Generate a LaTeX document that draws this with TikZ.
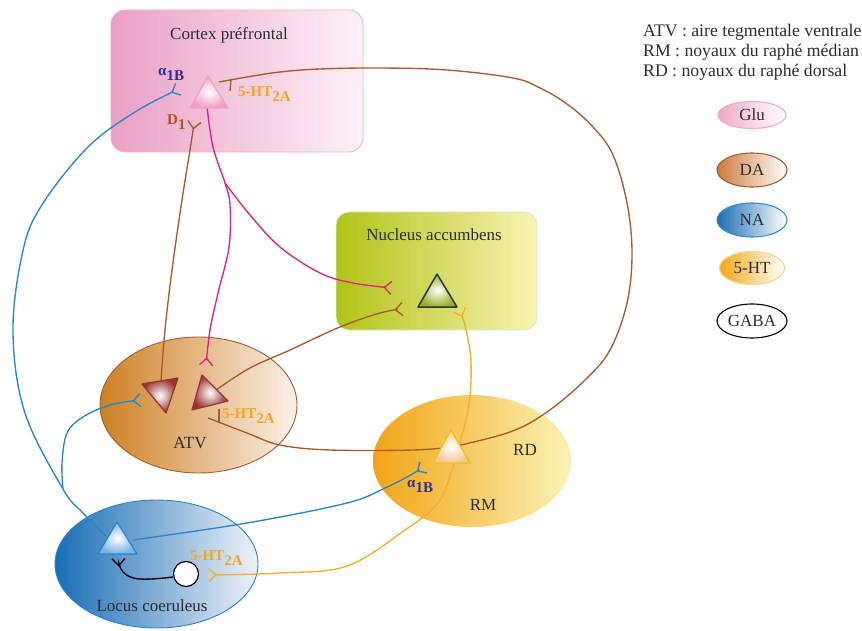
\documentclass[tikz,border=0pt]{standalone}
\usepackage{fontspec}
\setmainfont{Liberation Serif}
\usetikzlibrary{arrows.meta,shapes.geometric}
\definecolor{txt}{RGB}{45,45,45}
\definecolor{ctxL}{RGB}{234,160,196}
\definecolor{ctxR}{RGB}{252,242,247}
\definecolor{ctxB}{RGB}{242,176,204}
\definecolor{nacL}{RGB}{176,196,22}
\definecolor{nacR}{RGB}{249,243,178}
\definecolor{nacB}{RGB}{212,234,222}
\definecolor{atvL}{RGB}{206,128,34}
\definecolor{atvR}{RGB}{251,241,233}
\definecolor{atvB}{RGB}{166,92,50}
\definecolor{rdL}{RGB}{242,165,22}
\definecolor{rdR}{RGB}{251,243,182}
\definecolor{lcL}{RGB}{24,110,180}
\definecolor{lcR}{RGB}{238,242,250}
\definecolor{lcB}{RGB}{45,130,200}
\definecolor{blueln}{RGB}{40,135,200}
\definecolor{brownln}{RGB}{168,92,45}
\definecolor{pinkln}{RGB}{232,30,130}
\definecolor{orangeln}{RGB}{245,175,40}
\definecolor{navy}{RGB}{46,49,146}
\definecolor{orlab}{RGB}{245,168,30}
\definecolor{brlab}{RGB}{165,85,40}
\definecolor{gluL}{RGB}{240,170,200}
\definecolor{daL}{RGB}{205,125,60}
\definecolor{naL}{RGB}{30,110,180}
\definecolor{naB}{RGB}{50,140,210}
\definecolor{htL}{RGB}{242,168,25}
\definecolor{htB}{RGB}{250,212,140}
\definecolor{triCtx}{RGB}{240,160,195}
\definecolor{triNac}{RGB}{150,175,40}
\definecolor{triAtv}{RGB}{150,50,50}
\definecolor{triRd}{RGB}{245,200,150}
\definecolor{triLc}{RGB}{120,180,230}
\newcommand{\lowsub}[1]{\raisebox{-5pt}{#1}}
\begin{document}
\begin{tikzpicture}[x=1pt,y=-1pt,
  lab/.style={font=\fontsize{17}{20}\selectfont, text=txt, inner sep=0, anchor=base},
  rlab/.style={font=\fontsize{15}{18}\selectfont\bfseries, inner sep=0, anchor=base west},
  ln/.style={line width=1.35pt},
  fk/.style={-{Straight Barb[reversed,length=7pt,width=13pt]}},
  fkk/.style={{Straight Barb[reversed,length=7pt,width=13pt]}-{Straight Barb[reversed,length=7pt,width=13pt]}},
  legel/.style={ellipse, inner sep=0, font=\fontsize{17}{20}\selectfont, text=txt, line width=1.1pt},
  legtxt/.style={font=\fontsize{17.7}{20}\selectfont, text=txt, inner sep=0, anchor=base west},
  tri/.style={line width=1.2pt, line join=round}
]
\useasboundingbox (0,0) rectangle (862,631);

% ---------- regions ----------
\node[draw=ctxB, line width=0.8pt, left color=ctxL, right color=ctxR, rounded corners=14pt,
      minimum width=252pt, minimum height=142pt, inner sep=0] (cortex) at (237,81) {};
\node[draw=nacB, line width=0.8pt, left color=nacL, right color=nacR, rounded corners=13pt,
      minimum width=201pt, minimum height=118pt, inner sep=0] (nac) at (436.5,271) {};
\node[ellipse, draw=atvB, line width=0.9pt, left color=atvL, right color=atvR,
      minimum width=197pt, minimum height=136pt, inner sep=0] (atv) at (198.5,405) {};
\node[ellipse, left color=rdL, right color=rdR,
      minimum width=198pt, minimum height=132pt, inner sep=0] (rd) at (472,461) {};
\node[ellipse, draw=lcB, line width=0.9pt, left color=lcL, right color=lcR,
      minimum width=203pt, minimum height=128pt, inner sep=0] (lc) at (156.5,564) {};

% ---------- region labels ----------
\node[lab] (lctx) at (229,39.5) {Cortex préfrontal};
\node[lab] (lnac) at (434,240.5) {Nucleus accumbens};
\node[lab] (latv) at (190,448) {ATV};
\node[lab] (lrd) at (525,455) {RD};
\node[lab] (lrm) at (483,510) {RM};
\node[lab] (llc) at (152,611) {Locus coeruleus};

% ---------- named points ----------
\coordinate (ctxA) at (179,89);
\coordinate (ctxD) at (194.5,121);
\coordinate (ctxH) at (219,82);
\coordinate (ctxBot) at (207,107);
\coordinate (pinkSplit) at (225,183);
\coordinate (nacPink) at (392,288);
\coordinate (nacDA) at (403,309);
\coordinate (nacHT) at (459,309);
\coordinate (atvPink) at (206,366);
\coordinate (atvA) at (141,400);
\coordinate (atvH) at (208,418);
\coordinate (atvL1) at (161,381);
\coordinate (atvR1) at (216,390);
\coordinate (rdTri) at (452,447);
\coordinate (rdA) at (424,467);
\coordinate (lcTriL) at (107,537);
\coordinate (lcTriR) at (133,540);
\coordinate (lcSplit) at (63,489);
\coordinate (lcHT) at (208,575);
\coordinate (lcG) at (118.5,558);

% ---------- connectors ----------
% NA: locus coeruleus -> cortex alpha1B
\draw[ln, blueln, fk] plot[smooth, tension=0.6] coordinates
  {(lcTriL) (83,513) (lcSplit) (25,413) (13,333) (22,255) (40,208) (87,148) (135,112) (ctxA)};
% NA: branch -> ATV
\draw[ln, blueln, fk] plot[smooth, tension=0.6] coordinates
  {(lcSplit) (62,463) (67,433) (83,417) (110,405) (atvA)};
% NA: locus coeruleus -> raphe alpha1B
\draw[ln, blueln, fk] plot[smooth, tension=0.6] coordinates
  {(lcTriR) (247,523) (347,503) (385,488) (407,477) (rdA)};
% 5-HT: NAc <-> locus coeruleus through RM
\draw[ln, orangeln, fkk] plot[smooth, tension=0.6] coordinates
  {(nacHT) (466,330) (471,362) (469,405) (460,442) (452,470) (438,503) (405,530) (347,566) (280,573) (lcHT)};
% 5-HT: RD -> cortex
\draw[ln, brownln] plot[smooth, tension=0.6] coordinates
  {(rdTri) (510,432) (547,412) (585,380) (610,350) (627,303) (632,253) (627,203) (613,155) (593,127) (567,104) (540,88) (513,78) (447,70) (380,68) (320,69) (280,72) (247,77) (ctxH)};
\draw[ln, brownln] (231,79.5) -- (230,91);
% 5-HT: RD -> ATV
\draw[ln, brownln] plot[smooth, tension=0.6] coordinates
  {(rdTri) (413,450) (330,450) (280,445) (247,433) (atvH)};
\draw[ln, brownln] (219,409) -- (219,422);
% DA: ATV -> NAc
\draw[ln, brownln, fk] plot[smooth, tension=0.6] coordinates
  {(atvR1) (250,368) (290,350) (340,327) (380,313) (nacDA)};
% DA: ATV -> cortex D1
\draw[ln, brownln, fk] plot[smooth, tension=0.6] coordinates
  {(atvL1) (165,330) (172,270) (182,200) (190,150) (ctxD)};
% Glu: cortex -> ATV and NAc
\draw[ln, pinkln, fk] plot[smooth, tension=0.6] coordinates
  {(ctxBot) (213,147) (pinkSplit) (230,205) (229,247) (218,293) (210,330) (atvPink)};
\draw[ln, pinkln, fk] plot[smooth, tension=0.6] coordinates
  {(pinkSplit) (250,215) (280,247) (320,273) (353,283) (nacPink)};
% GABA: interneuron -> LC neuron
\draw[ln, black, fk] plot[smooth, tension=0.7] coordinates
  {(173,577) (140,579) (123,572) (lcG)};

% ---------- neurons ----------
\path[tri, draw=triCtx, inner color=white, outer color=triCtx] (208,76) -- (190,108) -- (228,108) -- cycle;
\path[tri, draw=black!80, line width=1.5pt, inner color=white, outer color=triNac] (437,274) -- (418,307) -- (457,307) -- cycle;
\path[tri, draw=triAtv, inner color=white, outer color=triAtv] (142,384) -- (178,378) -- (166,413) -- cycle;
\path[tri, draw=triAtv, inner color=white, outer color=triAtv] (192,410) -- (202,375) -- (228,401) -- cycle;
\path[tri, draw={rgb,255:red,248;green,192;blue,0}, inner color=white, outer color=triRd] (451,430) -- (433,463) -- (470,463) -- cycle;
\path[tri, draw=lcB, inner color=white, outer color=triLc] (117,522) -- (98,554) -- (137,554) -- cycle;
\node[circle, draw=black, fill=white, line width=1.2pt, minimum size=25pt, inner sep=0] (gaba) at (186,574) {};

% ---------- receptor labels ----------
\node[rlab, text=navy] (ra1) at (158,76) {α\lowsub{1B}};
\node[rlab, text=orlab] (rh1) at (238,97) {5-HT\lowsub{2A}};
\node[rlab, text=brlab] (rd1) at (167,125) {D\lowsub{1}};
\node[rlab, text=orlab] (rh2) at (222,418) {5-HT\lowsub{2A}};
\node[rlab, text=navy] (ra2) at (407,487) {α\lowsub{1B}};
\node[rlab, text=orlab] (rh3) at (190,560) {5-HT\lowsub{2A}};

% ---------- legend ----------
\node[legtxt] (lg1) at (643,37) {ATV : aire tegmentale ventrale};
\node[legtxt] (lg2) at (643,57) {RM : noyaux du raphé médian};
\node[legtxt] (lg3) at (643,77) {RD : noyaux du raphé dorsal};
\node[legel, draw=gluL, left color=gluL, right color=white, minimum width=68pt, minimum height=27pt] (kglu) at (752,115) {Glu};
\node[legel, draw=atvB, left color=daL, right color=white, minimum width=70pt, minimum height=34pt] (kda) at (752,170) {DA};
\node[legel, draw=naB, left color=naL, right color=white, minimum width=70pt, minimum height=34pt] (kna) at (752,220) {NA};
\node[legel, draw=htB, left color=htL, right color=white, minimum width=65pt, minimum height=33pt] (kht) at (752,268) {5-HT};
\node[legel, draw=black, fill=white, minimum width=70pt, minimum height=34pt] (kgaba) at (752,321) {GABA};
\end{tikzpicture}
\end{document}
